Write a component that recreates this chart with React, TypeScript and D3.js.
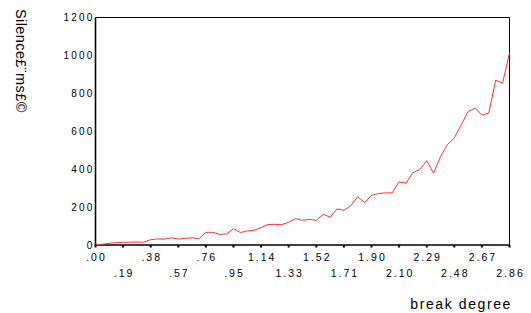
import { useEffect, useRef } from "react";
import * as d3 from "d3";

// silence (ms), one value per step of 2.86 / 60
const silence = [
  0, 4, 9, 12, 14, 15, 16, 15, 28, 32, 31, 38, 31, 35, 38, 33, 67, 67, 56, 58,
  86, 66, 74, 78, 92, 108, 109, 107, 120, 139, 130, 135, 130, 162, 147, 190, 183,
  207, 255, 223, 262, 271, 275, 275, 333, 326, 382, 398, 445, 379, 466, 530, 564,
  634, 704, 722, 685, 696, 870, 854, 1013,
];
const maxDegree = 2.86;
const tickLabels = [
  ".00", ".19", ".38", ".57", ".76", ".95", "1.14", "1.33",
  "1.52", "1.71", "1.90", "2.10", "2.29", "2.48", "2.67", "2.86",
];
const yTicks = [0, 200, 400, 600, 800, 1000, 1200];

const App = () => {
  const ref = useRef<SVGSVGElement>(null);

  useEffect(() => {
    const svg = d3.select(ref.current);
    svg.selectAll("*").remove();

    const left = 95.5, right = 509.5, top = 17.5, bottom = 245;
    const step = maxDegree / (silence.length - 1);

    const x = d3.scaleLinear().domain([0, maxDegree]).range([left, right]);
    const y = d3.scaleLinear().domain([0, 1200]).range([bottom, top]);

    // frame
    svg.append("path")
      .attr("d", `M${left},${top}H${right}V${bottom}`)
      .attr("fill", "none").attr("stroke", "#000").attr("stroke-width", 1);
    svg.append("path")
      .attr("d", `M${left},${top}V${bottom}H${right}`)
      .attr("fill", "none").attr("stroke", "#000").attr("stroke-width", 1.6);

    // y labels
    svg.append("g").selectAll("text")
      .data(yTicks)
      .enter().append("text")
      .attr("x", left - 1)
      .attr("y", (d) => y(d))
      .attr("dy", "0.35em")
      .attr("text-anchor", "end")
      .attr("font-family", "Liberation Sans, Arial, sans-serif")
      .attr("font-size", 10)
      .attr("letter-spacing", 2.2)
      .text((d) => d);

    // x ticks every 4th point, labels staggered on two rows
    const tickVals = tickLabels.map((_, i) => i * 4 * step);
    svg.append("g").selectAll("line")
      .data(tickVals)
      .enter().append("line")
      .attr("x1", (d) => x(d)).attr("x2", (d) => x(d))
      .attr("y1", bottom).attr("y2", bottom + 2.5)
      .attr("stroke", "#000").attr("stroke-width", 2);
    svg.append("g").selectAll("text")
      .data(tickVals)
      .enter().append("text")
      .attr("x", (d) => x(d) + 1)
      .attr("y", (_, i) => (i % 2 === 0 ? 257.5 : 273.5))
      .attr("dy", "0.35em")
      .attr("text-anchor", "middle")
      .attr("font-family", "Liberation Sans, Arial, sans-serif")
      .attr("font-size", 10.5)
      .attr("letter-spacing", 2)
      .text((_, i) => tickLabels[i]);

    // the line
    const line = d3.line<number>()
      .x((_, i) => x(i * step))
      .y((d) => y(d));
    svg.append("path")
      .datum(silence)
      .attr("d", line)
      .attr("fill", "none")
      .attr("stroke", "#ff3030")
      .attr("stroke-width", 1);

    // axis titles
    svg.append("text")
      .attr("x", 512).attr("y", 304)
      .attr("dy", "0.35em")
      .attr("text-anchor", "end")
      .attr("font-family", "Liberation Sans, Arial, sans-serif")
      .attr("font-size", 14)
      .attr("letter-spacing", 1.6)
      .text("break degree");
    svg.append("text")
      .attr("transform", "translate(21,9) rotate(90)")
      .attr("dy", "0.35em")
      .attr("text-anchor", "start")
      .attr("font-family", "Liberation Sans, Arial, sans-serif")
      .attr("font-size", 14.5)
      .attr("letter-spacing", 0.4)
      .text("Silence£¨ms£©");
  }, []);

  return (
    <svg
      ref={ref}
      width={531}
      height={313}
      style={{ position: "absolute", left: 0, top: 0, background: "#fff" }}
    />
  );
};

export default App;
